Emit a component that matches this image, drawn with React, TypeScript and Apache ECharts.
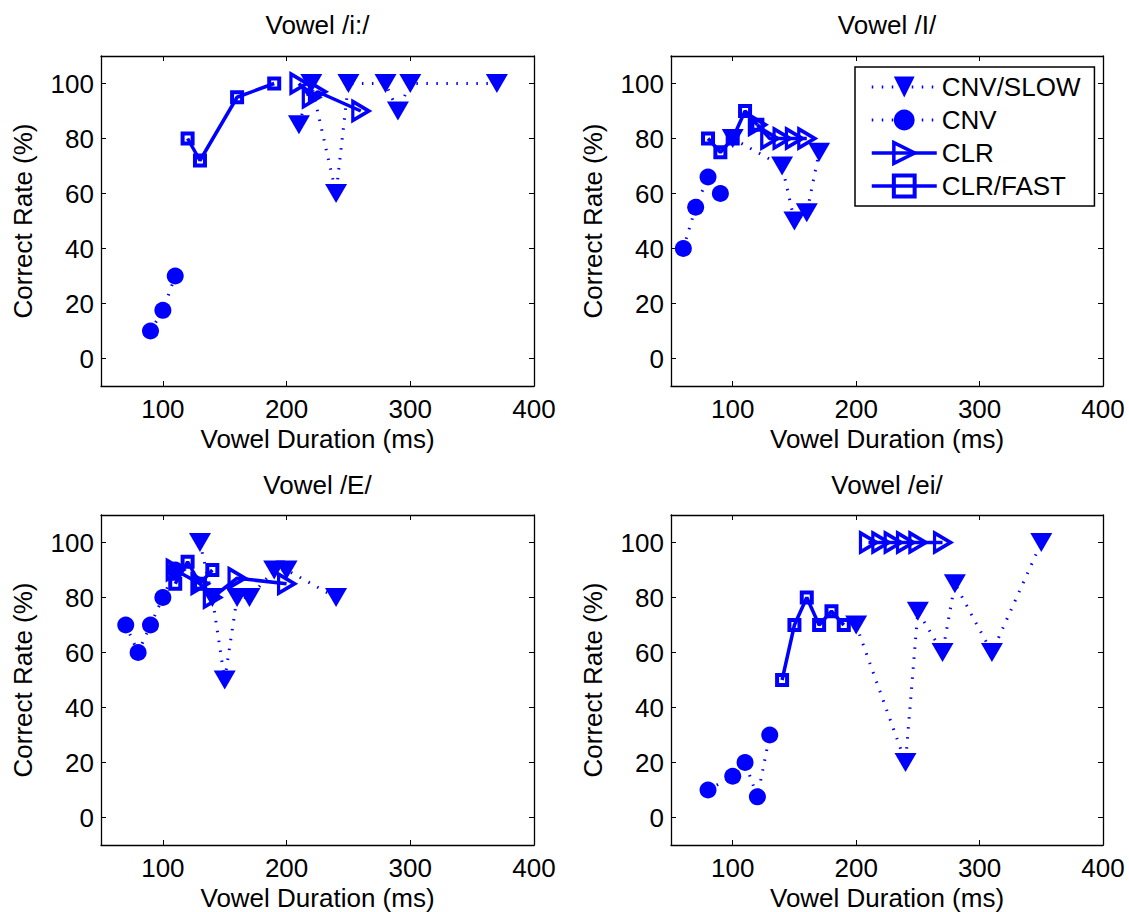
import React, { useEffect, useRef } from 'react';
import * as echarts from 'echarts';

// ---------- data ----------
const seriesNames = ['CNV/SLOW', 'CNV', 'CLR', 'CLR/FAST'];
const panelTitles = ['Vowel /i:/', 'Vowel /I/', 'Vowel /E/', 'Vowel /ei/'];
const xTicks = [100, 200, 300, 400];
const yTicks = [0, 20, 40, 60, 80, 100];
const xLabel = 'Vowel Duration (ms)';
const yLabel = 'Correct Rate (%)';

// Vowel /i:/
const iSlow = [[210, 85], [220, 100], [240, 60], [250, 100], [280, 100], [290, 90], [300, 100], [370, 100]];
const iCnv = [[90, 10], [100, 17.5], [110, 30]];
const iClr = [[210, 100], [220, 95], [225, 97], [260, 90]];
const iFast = [[120, 80], [130, 72], [160, 95], [190, 100]];

// Vowel /I/
const ISlow = [[100, 80], [140, 70], [150, 50], [160, 53], [170, 75]];
const ICnv = [[60, 40], [70, 55], [80, 66], [90, 60]];
const IClr = [[120, 85], [130, 80], [140, 80], [150, 80], [160, 80]];
const IFast = [[80, 80], [90, 75], [100, 80], [110, 90], [120, 85]];

// Vowel /E/
const ESlow = [[130, 100], [140, 80], [150, 50], [160, 80], [170, 80], [190, 90], [200, 90], [240, 80]];
const ECnv = [[70, 70], [80, 60], [90, 70], [100, 80], [110, 90]];
const EClr = [[110, 90], [130, 85], [140, 80], [160, 87], [200, 85]];
const EFast = [[110, 85], [120, 93], [130, 85], [140, 90]];

// Vowel /ei/
const eiSlow = [[200, 70], [240, 20], [250, 75], [270, 60], [280, 85], [310, 60], [350, 100]];
const eiCnv = [[80, 10], [100, 15], [110, 20], [120, 7.5], [130, 30]];
const eiClr = [[210, 100], [220, 100], [230, 100], [240, 100], [250, 100], [270, 100]];
const eiFast = [[140, 50], [150, 70], [160, 80], [170, 70], [180, 75], [190, 70]];

const panelData = [
  [iSlow, iCnv, iClr, iFast],
  [ISlow, ICnv, IClr, IFast],
  [ESlow, ECnv, EClr, EFast],
  [eiSlow, eiCnv, eiClr, eiFast],
];

// ---------- styling ----------
const BLUE = '#0000ff';
const CLEAR = 'rgba(0,0,255,0)';
const FONT = "'Liberation Sans', Arial, Helvetica, sans-serif";
const DOWN = 'path://M0,0L20,0L10,17.32Z';
const RIGHT = 'path://M0,0L17.32,10L0,20Z';
const DOTTED = { color: BLUE, width: 3, type: [1.5, 8.5] as any };
const SOLID = { color: BLUE, width: 3.5, type: 'solid' as any };

const grids = [
  { left: 101, top: 56, width: 433, height: 330 },
  { left: 671, top: 56, width: 432, height: 330 },
  { left: 101, top: 515, width: 433, height: 331 },
  { left: 671, top: 515, width: 432, height: 331 },
];

function seriesStyle(name: string): any {
  switch (name) {
    case 'CNV/SLOW':
      return { symbol: DOWN, symbolSize: [22, 19], itemStyle: { color: BLUE }, lineStyle: DOTTED };
    case 'CNV':
      return { symbol: 'circle', symbolSize: 17, itemStyle: { color: BLUE }, lineStyle: DOTTED };
    case 'CLR':
      return {
        symbol: RIGHT,
        symbolSize: [16, 19],
        itemStyle: { color: CLEAR, borderColor: BLUE, borderWidth: 3.5 },
        lineStyle: SOLID,
      };
    default:
      return {
        symbol: 'rect',
        symbolSize: 10,
        itemStyle: { color: CLEAR, borderColor: BLUE, borderWidth: 4 },
        lineStyle: SOLID,
      };
  }
}

const axisLineStyle = { color: '#000', width: 1.3 };
const tickStyle = { color: '#000', width: 1 };
const labelText = { color: '#000', fontSize: 26, fontFamily: FONT };

export default function App() {
  const ref = useRef<HTMLDivElement>(null);

  useEffect(() => {
    if (!ref.current) return;
    const chart = echarts.init(ref.current, undefined, { renderer: 'svg' });

    const xAxis: any[] = [];
    const yAxis: any[] = [];
    const series: any[] = [];

    grids.forEach((_, g) => {
      xAxis.push({
        type: 'value', gridIndex: g, min: 50, max: 400, position: 'bottom',
        axisLine: { show: true, onZero: false, lineStyle: axisLineStyle },
        axisTick: { show: true, inside: true, length: 5, customValues: xTicks, lineStyle: tickStyle },
        axisLabel: { show: true, customValues: xTicks, margin: 10, ...labelText },
        splitLine: { show: false },
        name: xLabel, nameLocation: 'middle', nameGap: 40,
        nameTextStyle: { ...labelText },
      });
      xAxis.push({
        type: 'value', gridIndex: g, min: 50, max: 400, position: 'top',
        axisLine: { show: true, onZero: false, lineStyle: axisLineStyle },
        axisTick: { show: true, inside: true, length: 5, customValues: xTicks, lineStyle: tickStyle },
        axisLabel: { show: false },
        splitLine: { show: false },
      });
      yAxis.push({
        type: 'value', gridIndex: g, min: -10, max: 110, position: 'left',
        axisLine: { show: true, onZero: false, lineStyle: axisLineStyle },
        axisTick: { show: true, inside: true, length: 5, customValues: yTicks, lineStyle: tickStyle },
        axisLabel: { show: true, customValues: yTicks, margin: 7, ...labelText },
        splitLine: { show: false },
        name: yLabel, nameLocation: 'middle', nameGap: 65,
        nameTextStyle: { ...labelText },
      });
      yAxis.push({
        type: 'value', gridIndex: g, min: -10, max: 110, position: 'right',
        axisLine: { show: true, onZero: false, lineStyle: axisLineStyle },
        axisTick: { show: true, inside: true, length: 5, customValues: yTicks, lineStyle: tickStyle },
        axisLabel: { show: false },
        splitLine: { show: false },
      });

      seriesNames.forEach((name, s) => {
        series.push({
          type: 'line',
          name,
          xAxisIndex: 2 * g,
          yAxisIndex: 2 * g,
          data: panelData[g][s],
          showSymbol: true,
          emphasis: { disabled: true },
          ...seriesStyle(name),
        });
      });
    });

    const legendData = seriesNames.map((name) => {
      const st = seriesStyle(name);
      return {
        name,
        itemStyle: { ...st.itemStyle },
        lineStyle: { ...st.lineStyle },
      };
    });

    chart.setOption({
      animation: false,
      backgroundColor: '#fff',
      grid: grids.map((gr) => ({ ...gr, containLabel: false })),
      xAxis,
      yAxis,
      series,
      legend: {
        data: legendData,
        orient: 'vertical',
        left: 855,
        top: 67,
        itemWidth: 65,
        itemHeight: 26,
        itemGap: 7,
        padding: [7, 14, 7, 15],
        borderColor: '#000',
        borderWidth: 1.5,
        backgroundColor: '#fff',
        selectedMode: false,
        textStyle: { ...labelText },
      },
      graphic: panelTitles.map((t, i) => ({
        type: 'text',
        x: grids[i].left + grids[i].width / 2,
        y: i < 2 ? 25 : 485,
        style: {
          text: t,
          fontSize: 26,
          fontFamily: FONT,
          fill: '#000',
          align: 'center',
          verticalAlign: 'middle',
        },
      })),
    });

    return () => chart.dispose();
  }, []);

  return (
    <div
      ref={ref}
      style={{ position: 'absolute', left: 0, top: 0, width: 1129, height: 912, background: '#fff' }}
    />
  );
}
